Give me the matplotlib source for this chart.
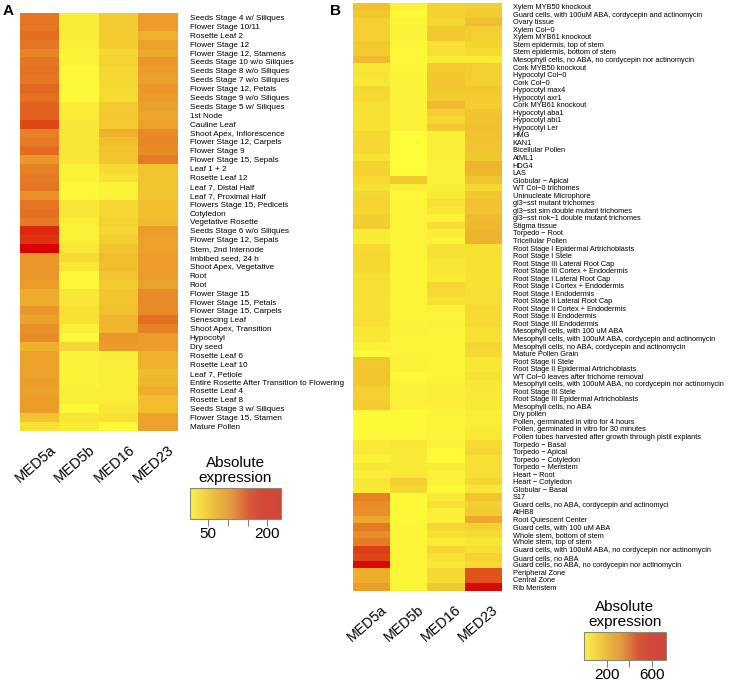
import matplotlib
matplotlib.use("Agg")
import matplotlib.pyplot as plt
import matplotlib.transforms as mtransforms
from matplotlib.colors import LinearSegmentedColormap, Normalize
from matplotlib.cm import ScalarMappable
import numpy as np

plt.rcParams['font.family'] = ['Liberation Sans', 'DejaVu Sans']

genes = ["MED5a", "MED5b", "MED16", "MED23"]

# panel A: AtGenExpress developmental tissues
tissues_a = [
    "Seeds Stage 4 w/ Siliques", "Flower Stage 10/11", "Rosette Leaf 2", "Flower Stage 12",
    "Flower Stage 12, Stamens", "Seeds Stage 10 w/o Siliques", "Seeds Stage 8 w/o Siliques",
    "Seeds Stage 7 w/o Siliques", "Flower Stage 12, Petals", "Seeds Stage 9 w/o Siliques",
    "Seeds Stage 5 w/ Siliques", "1st Node", "Cauline Leaf", "Shoot Apex, Inflorescence",
    "Flower Stage 12, Carpels", "Flower Stage 9", "Flower Stage 15, Sepals", "Leaf 1 + 2",
    "Rosette Leaf 12", "Leaf 7, Distal Half", "Leaf 7, Proximal Half",
    "Flowers Stage 15, Pedicels", "Cotyledon", "Vegetative Rosette",
    "Seeds Stage 6 w/o Siliques", "Flower Stage 12, Sepals", "Stem, 2nd Internode",
    "Imbibed seed, 24 h", "Shoot Apex, Vegetative", "Root", "Root", "Flower Stage 15",
    "Flower Stage 15, Petals", "Flower Stage 15, Carpels", "Senescing Leaf",
    "Shoot Apex, Transition", "Hypocotyl", "Dry seed", "Rosette Leaf 6", "Rosette Leaf 10",
    "Leaf 7, Petiole", "Entire Rosette After Transition to Flowering", "Rosette Leaf 4",
    "Rosette Leaf 8", "Seeds Stage 3 w/ Siliques", "Flower Stage 15, Stamen", "Mature Pollen",
]
med5a_a = [130, 130, 140, 130, 115, 130, 135, 130, 145, 135, 150, 150, 175, 120, 125, 140,
           100, 120, 125, 130, 105, 130, 135, 125, 200, 190, 235, 100, 100, 100, 95, 80,
           80, 100, 90, 105, 110, 75, 90, 90, 90, 95, 90, 95, 95, 55, 30]
med5b_a = [20, 22, 22, 20, 15, 15, 12, 12, 10, 10, 22, 22, 25, 25, 25, 25,
           25, 15, 15, 12, 12, 25, 25, 20, 18, 20, 25, 35, 25, 12, 10, 25,
           25, 30, 30, 20, 12, 40, 15, 15, 15, 15, 20, 20, 10, 25, 22]
med16_a = [50, 50, 48, 48, 40, 42, 40, 38, 35, 35, 50, 52, 50, 75, 60, 55,
           55, 35, 30, 15, 15, 40, 40, 42, 40, 45, 55, 60, 60, 55, 50, 55,
           55, 60, 70, 70, 100, 95, 20, 20, 20, 20, 20, 20, 25, 30, 10]
med23_a = [95, 95, 75, 90, 85, 100, 95, 90, 100, 95, 90, 85, 90, 110, 115, 110,
           125, 55, 55, 55, 55, 60, 60, 65, 95, 90, 90, 95, 95, 95, 90, 110,
           110, 110, 135, 120, 95, 95, 75, 75, 65, 70, 80, 60, 60, 90, 90]

# panel B: other tissue / cell type datasets
tissues_b = [
    "Xylem MYB50 knockout", "Guard cells, with 100uM ABA, cordycepin and actinomycin",
    "Ovary tissue", "Xylem Col\u22120", "Xylem MYB61 knockout", "Stem epidermis, top of stem",
    "Stem epidermis, bottom of stem", "Mesophyll cells, no ABA, no cordycepin nor actinomycin",
    "Cork MYB50 knockout", "Hypocotyl Col\u22120", "Cork Col\u22120", "Hypocotyl max4",
    "Hypocotyl axr1", "Cork MYB61 knockout", "Hypocotyl aba1", "Hypocotyl abi1",
    "Hypocotyl Ler", "HMG", "KAN1", "Bicellular Pollen", "AtML1", "HDG4", "LAS",
    "Globular \u2212 Apical", "WT Col\u22120 trichomes", "Uninucleate Microphore",
    "gl3\u2212sst mutant trichomes", "gl3\u2212sst sim double mutant trichomes",
    "gl3\u2212sst nok\u22121 double mutant trichomes", "Stigma tissue", "Torpedo \u2212 Root",
    "Tricellular Pollen", "Root Stage I Epidermal Artrichoblasts", "Root Stage I Stele",
    "Root Stage III Lateral Root Cap", "Root Stage III Cortex + Endodermis",
    "Root Stage I Lateral Root Cap", "Root Stage I Cortex + Endodermis",
    "Root Stage I Endodermis", "Root Stage II Lateral Root Cap",
    "Root Stage II Cortex + Endodermis", "Root Stage II Endodermis",
    "Root Stage III Endodermis", "Mesophyll cells, with 100 uM ABA",
    "Mesophyll cells, with 100uM ABA, cordycepin and actinomycin",
    "Mesophyll cells, no ABA, cordycepin and actinomycin", "Mature Pollen Grain",
    "Root Stage II Stele", "Root Stage II Epidermal Artrichoblasts",
    "WT Col\u22120 leaves after trichome removal",
    "Mesophyll cells, with 100uM ABA, no cordycepin nor actinomycin",
    "Root Stage III Stele", "Root Stage III Epidermal Artrichoblasts",
    "Mesophyll cells, no ABA", "Dry pollen", "Pollen, germinated in vitro for 4 hours",
    "Pollen, germinated in vitro for 30 minutes",
    "Pollen tubes harvested after growth through pistil explants", "Torpedo \u2212 Basal",
    "Torpedo \u2212 Apical", "Torpedo \u2212 Cotyledon", "Torpedo \u2212 Meristem",
    "Heart \u2212 Root", "Heart \u2212 Cotyledon", "Globular \u2212 Basal", "S17",
    "Guard cells, no ABA, cordycepin and actinomyci", "AtHB8", "Root Quiescent Center",
    "Guard cells, with 100 uM ABA", "Whole stem, bottom of stem", "Whole stem, top of stem",
    "Guard cells, with 100uM ABA, no cordycepin nor actinomycin", "Guard cells, no ABA",
    "Guard cells, no ABA, no cordycepin nor actinomycin", "Peripheral Zone", "Central Zone",
    "Rib Meristem",
]
med5a_b = [170, 150, 130, 130, 130, 150, 140, 190, 70, 75, 70, 110, 100, 90, 80, 80,
           80, 110, 110, 110, 80, 120, 120, 100, 90, 110, 120, 110, 130, 140, 60, 60,
           100, 110, 110, 100, 90, 90, 90, 80, 80, 90, 90, 70, 70, 40, 20, 150,
           150, 160, 150, 130, 130, 140, 20, 20, 20, 20, 60, 60, 40, 70, 50, 70,
           60, 360, 330, 320, 250, 380, 330, 380, 560, 540, 700, 230, 230, 280]
med5b_b = [40, 20, 30, 35, 35, 30, 25, 25, 30, 30, 35, 35, 35, 40, 40, 40,
           40, 10, 10, 10, 10, 10, 10, 150, 40, 25, 30, 30, 30, 30, 30, 30,
           30, 30, 30, 30, 30, 30, 30, 30, 30, 30, 30, 40, 30, 30, 30, 40,
           40, 20, 30, 40, 40, 40, 20, 20, 20, 20, 70, 60, 60, 60, 60, 130,
           110, 20, 20, 20, 20, 30, 30, 30, 30, 30, 30, 30, 30, 30]
med16_b = [120, 120, 110, 150, 150, 90, 90, 60, 140, 150, 160, 150, 140, 190, 130, 110,
           140, 50, 50, 50, 50, 45, 45, 45, 50, 60, 80, 70, 40, 90, 50, 30,
           80, 80, 70, 70, 60, 110, 100, 80, 40, 30, 40, 30, 30, 30, 30, 30,
           30, 30, 40, 50, 50, 40, 30, 30, 30, 30, 40, 15, 15, 60, 40, 40,
           20, 60, 80, 50, 40, 110, 90, 60, 110, 80, 70, 110, 100, 150]
med23_b = [130, 140, 180, 130, 130, 120, 100, 60, 130, 130, 130, 150, 140, 130, 160, 170,
           180, 170, 160, 160, 150, 210, 200, 160, 110, 150, 170, 160, 190, 200, 220, 220,
           80, 80, 80, 80, 80, 80, 90, 90, 100, 100, 100, 80, 80, 110, 100, 70,
           70, 80, 70, 60, 60, 60, 50, 50, 60, 70, 100, 110, 90, 90, 90, 110,
           70, 160, 130, 140, 250, 120, 100, 70, 90, 120, 100, 500, 500, 700]

# heat colours used for the cells (fraction of range, colour)
heat = LinearSegmentedColormap.from_list("heat", [
    (0.0, "#FFFF3A"), (0.07, "#FAEE36"), (0.2, "#F3C930"), (0.33, "#EEAC2C"),
    (0.42, "#EA9529"), (0.55, "#E57624"), (0.68, "#E1561C"), (0.85, "#DD2A0C"),
    (1.0, "#DC0000")])
# colours of the colour key
key = LinearSegmentedColormap.from_list("key", [
    (0.0, "#FBF24A"), (0.25, "#EDC040"), (0.45, "#E39A40"), (0.65, "#D65A38"),
    (0.8, "#D2483A"), (1.0, "#D0463A")])

fig = plt.figure(figsize=(7.32, 6.84), dpi=100)
W, H = 732.0, 684.0


def px_axes(x0, y0, x1, y1):
    return fig.add_axes([x0 / W, 1 - y1 / H, (x1 - x0) / W, (y1 - y0) / H])


def heatmap(ax, data, labels, vmin, vmax, fs, pad, lab_dy, lab_fs):
    ax.imshow(data, cmap=heat, norm=Normalize(vmin, vmax), aspect="auto",
              interpolation="nearest")
    ax.yaxis.tick_right()
    ax.set_yticks(range(len(labels)))
    ax.set_yticklabels(labels, fontsize=fs)
    ax.tick_params(axis="y", length=0, pad=pad)
    ax.set_xticks([])
    for s in ax.spines.values():
        s.set_visible(False)
    trans = mtransforms.blended_transform_factory(ax.transData, ax.transAxes)
    for i, g in enumerate(genes):
        ax.text(i + 0.35, lab_dy, g, transform=trans, rotation=41, ha="right",
                va="center", rotation_mode="anchor", fontsize=lab_fs)


def colour_key(x0, y0, x1, y1, vmin, vmax, ticks, ticklabels):
    cax = px_axes(x0, y0, x1, y1)
    sm = ScalarMappable(norm=Normalize(vmin, vmax), cmap=key)
    cb = fig.colorbar(sm, cax=cax, orientation="horizontal")
    cb.set_ticks(ticks)
    cb.set_ticklabels(ticklabels)
    cb.outline.set_edgecolor("#8a8a70")
    cb.outline.set_linewidth(0.8)
    cax.tick_params(axis="x", direction="out", length=5, width=0.8, color="#808080",
                    labelsize=11, pad=1)
    cax.set_title("Absolute\nexpression", fontsize=11, linespacing=1.15, pad=4)


data_a = np.array([med5a_a, med5b_a, med16_a, med23_a]).T
data_b = np.array([med5a_b, med5b_b, med16_b, med23_b]).T

ax_a = px_axes(20, 13, 178, 431)
heatmap(ax_a, data_a, tissues_a, 4, 235, 5.9, 8.5, -0.04, 10.5)
ax_b = px_axes(353, 3, 502, 591)
heatmap(ax_b, data_b, tissues_b, 0, 725, 5.3, 7.8, -0.028, 10.3)

colour_key(190, 488, 281, 519, 4, 235, [50, 100, 150, 200], ["50", "", "", "200"])
colour_key(584, 632, 666, 660, 0, 725, [200, 400, 600], ["200", "", "600"])

fig.text(3 / W, 1 - 4 / H, "A", fontsize=11, fontweight="bold", va="top")
fig.text(330 / W, 1 - 4 / H, "B", fontsize=11, fontweight="bold", va="top")

fig.savefig("out.png", dpi=100)
